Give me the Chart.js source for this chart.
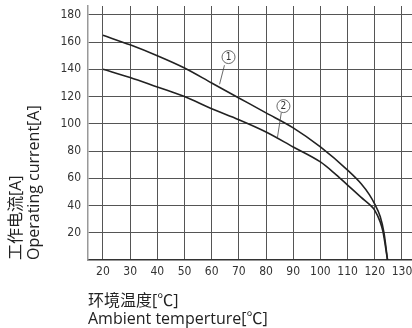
<!DOCTYPE html>
<html>
<head>
<meta charset="utf-8">
<script src="https://cdn.jsdelivr.net/npm/chart.js@4"></script>
<style>
    html, body { margin: 0; padding: 0; background: #fff; }
    #wrap { width: 412px; height: 328px; }
</style>
</head>
<body>
<div id="wrap"><canvas id="deratingChart"></canvas></div>
<script>
// Curve 1 and curve 2
const temps1 = [20, 30, 40, 50, 60, 70, 80, 90, 100, 110, 115, 118, 120, 122, 123.4, 124.7];
const current1 = [165, 158, 150, 141, 130, 119, 108, 97, 83, 66, 56, 48, 41, 32, 20, 0];
const temps2 = [20, 30, 40, 50, 60, 70, 80, 90, 100, 105, 110, 115, 119, 120, 122, 123, 124.7];
const current2 = [140, 134, 127, 120, 111, 103, 94, 83, 72, 64, 55, 46, 39, 36.5, 28, 21, 0];

const xTicks = [20, 30, 40, 50, 60, 70, 80, 90, 100, 110, 120, 130];
const yTicks = [20, 40, 60, 80, 100, 120, 140, 160, 180];

// Curve labels: circle position and leader line end (data units)
const curveLabels = [
    { text: '1', cx: 66.2, cy: 149, from: [64.7, 143], to: [62.9, 129] },
    { text: '2', cx: 86.4, cy: 113, from: [85.6, 108], to: [84.2, 90] }
];

function toPoints(xs, ys) {
    return xs.map((x, i) => ({ x: x, y: ys[i] }));
}

// Draw the circled numbers with their leader lines
const curveLabelPlugin = {
    id: 'curveLabels',
    afterDatasetsDraw(chart) {
        const ctx = chart.ctx;
        const xs = chart.scales.x;
        const ys = chart.scales.y;
        ctx.save();
        ctx.strokeStyle = '#444';
        ctx.lineWidth = 0.8;
        curveLabels.forEach(l => {
            ctx.beginPath();
            ctx.moveTo(xs.getPixelForValue(l.from[0]), ys.getPixelForValue(l.from[1]));
            ctx.lineTo(xs.getPixelForValue(l.to[0]), ys.getPixelForValue(l.to[1]));
            ctx.stroke();
            const px = xs.getPixelForValue(l.cx);
            const py = ys.getPixelForValue(l.cy);
            ctx.beginPath();
            ctx.arc(px, py, 6.5, 0, Math.PI * 2);
            ctx.fillStyle = '#fff';
            ctx.fill();
            ctx.stroke();
            ctx.fillStyle = '#333';
            ctx.font = '10px "Liberation Sans Narrow", "DejaVu Sans Condensed", sans-serif';
            ctx.textAlign = 'center';
            ctx.textBaseline = 'middle';
            ctx.fillText(l.text, px, py + 0.5);
        });
        ctx.restore();
    }
};

const tickFont = { family: '"Liberation Sans Narrow", "DejaVu Sans Condensed", sans-serif', size: 12 };
const titleFont = { family: '"Open Sans", "Noto Sans CJK SC", sans-serif', size: 16, lineHeight: 1.1 };

new Chart(document.getElementById('deratingChart').getContext('2d'), {
    type: 'line',
    data: {
        datasets: [{
            label: '1',
            data: toPoints(temps1, current1),
            borderColor: '#222',
            borderWidth: 1.6,
            pointRadius: 0,
            cubicInterpolationMode: 'monotone'
        }, {
            label: '2',
            data: toPoints(temps2, current2),
            borderColor: '#222',
            borderWidth: 1.6,
            pointRadius: 0,
            cubicInterpolationMode: 'monotone'
        }]
    },
    options: {
        responsive: true,
        maintainAspectRatio: false,
        animation: false,
        layout: { padding: { top: 6, right: 0, left: 0, bottom: 0 } },
        plugins: {
            legend: { display: false },
            tooltip: { enabled: false }
        },
        scales: {
            x: {
                type: 'linear',
                min: 14.5,
                max: 133.7,
                afterBuildTicks: axis => { axis.ticks = xTicks.map(v => ({ value: v })); },
                afterFit: axis => { axis.height = 68; axis.paddingRight = 0; axis.paddingLeft = 0; },
                grid: { color: '#555', lineWidth: 1, drawTicks: false },
                border: { color: '#333', width: 1.5 },
                ticks: { color: '#333', font: tickFont, padding: 5, maxRotation: 0, autoSkip: false },
                title: {
                    display: true,
                    text: ['环境温度[℃]', 'Ambient temperture[℃]'],
                    align: 'start',
                    color: '#222',
                    font: titleFont,
                    padding: { top: 8, bottom: 0 }
                }
            },
            y: {
                min: 0,
                max: 186.5,
                afterBuildTicks: axis => { axis.ticks = yTicks.map(v => ({ value: v })); },
                afterFit: axis => { axis.width = 88; axis.paddingTop = 0; axis.paddingBottom = 0; },
                grid: { color: '#555', lineWidth: 1, drawTicks: false },
                border: { color: '#999', width: 1.5 },
                ticks: { color: '#333', font: tickFont, padding: 7 },
                title: {
                    display: true,
                    text: ['工作电流[A]', 'Operating current[A]'],
                    align: 'start',
                    color: '#222',
                    font: titleFont,
                    padding: { top: 8, bottom: 0 }
                }
            }
        }
    },
    plugins: [curveLabelPlugin]
});
</script>
</body>
</html>
